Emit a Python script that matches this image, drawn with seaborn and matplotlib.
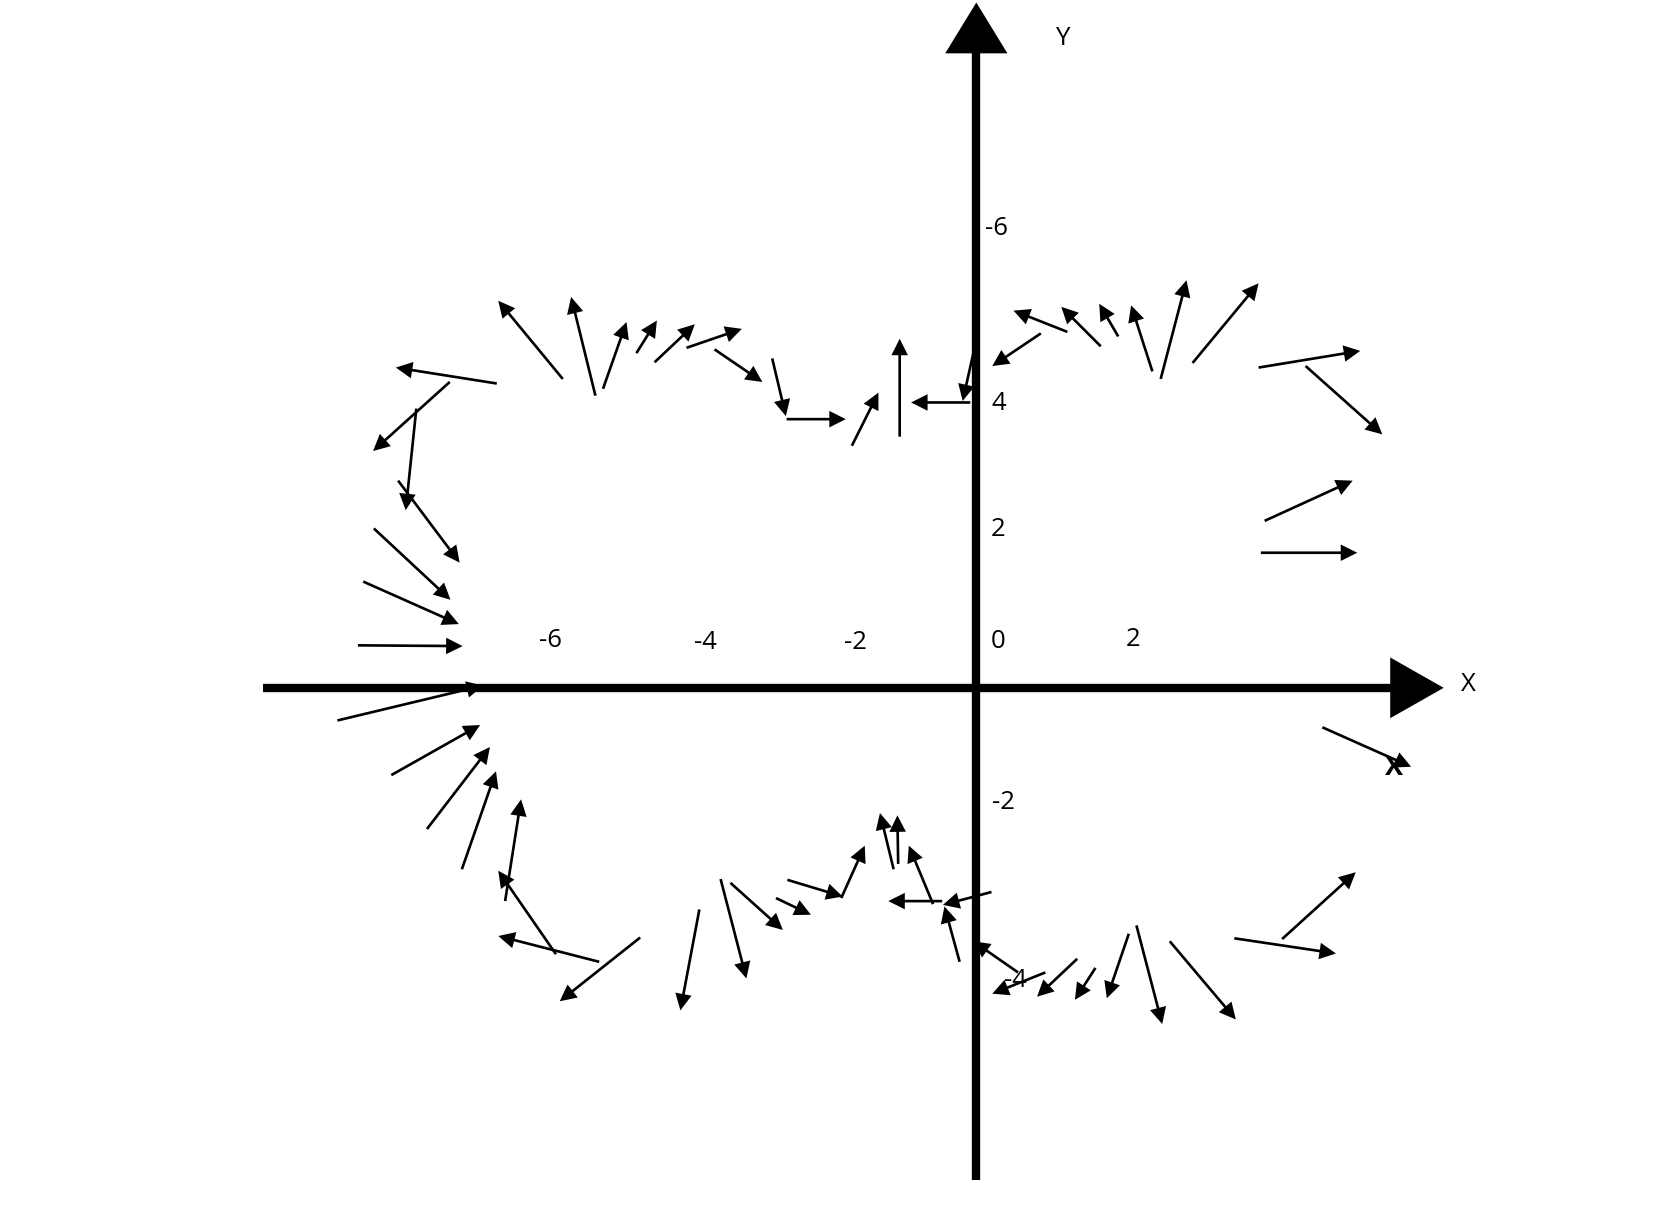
import numpy as np
import matplotlib
matplotlib.use("Agg")
import matplotlib.pyplot as plt
import seaborn as sns

sns.set_theme(style="white")
plt.rcParams['font.family'] = ['Open Sans', 'DejaVu Sans']

# Arrow tails (x, y) and components (u, v) in data units
x = [-5.45, -5.02, -4.92, -4.48, -4.24, -3.82, -3.45, -2.69, -2.50, -1.64,
     -1.01, -0.08, -0.03, -6.32, -6.94, -7.38, -7.62, -7.94, -8.08, -8.15,
     -8.42, -7.71, -7.24, -6.78, -6.21, -5.54, -4.97, -4.43, -3.65, -3.37,
     -3.24, -2.64, -2.49, -1.78, -1.09, -1.03, -0.57, -0.45, 0.20, -0.22,
     0.55, 0.91, 1.33, 1.57, 2.01, 2.11, 2.55, 3.40, 4.03, 4.56,
     0.85, 1.20, 1.64, 1.87, 2.32, 2.43, 2.85, 3.72, 4.34, 3.80, 3.75]
y = [4.07, 3.85, 3.94, 4.41, 4.29, 4.48, 4.46, 4.34, 3.54, 3.19,
     3.31, 3.76, 4.45, 4.01, 4.03, 3.68, 2.73, 2.10, 1.40, 0.56,
     -0.43, -1.15, -1.86, -2.39, -2.81, -3.51, -3.61, -3.29, -2.92, -2.52,
     -2.57, -2.77, -2.53, -2.77, -2.39, -2.32, -2.85, -2.81, -2.69, -3.61,
     -3.75, -3.75, -3.57, -3.69, -3.24, -3.13, -3.34, -3.30, -3.31, -0.52,
     4.67, 4.69, 4.50, 4.63, 4.17, 4.07, 4.28, 4.22, 4.24, 2.20, 1.78]
u = [-0.85, -0.32, 0.31, 0.27, 0.53, 0.73, 0.63, 0.18, 0.78, 0.35,
     0.00, -0.78, -0.15, -1.33, -1.01, -0.14, 0.81, 1.01, 1.26, 1.38,
     1.92, 1.17, 0.83, 0.45, 0.21, -0.76, -1.33, -1.06, -0.25, 0.34,
     0.69, 0.46, 0.73, 0.31, -0.18, -0.01, -0.32, -0.71, -0.64, -0.20,
     -0.59, -0.70, -0.53, -0.27, -0.29, 0.34, 0.87, 1.34, 0.97, 1.17,
     -0.64, -0.71, -0.52, -0.25, -0.28, 0.34, 0.87, 1.34, 1.01, 1.16, 1.27]
v = [1.03, 1.30, 0.88, 0.43, 0.50, 0.25, -0.43, -0.76, 0.00, 0.70,
     1.29, 0.00, -0.67, 0.21, -0.91, -1.34, -1.08, -0.94, -0.56, -0.01,
     0.46, 0.66, 1.08, 1.29, 1.34, 1.10, 0.34, -0.84, -1.33, -1.31,
     -0.62, -0.22, -0.22, 0.69, 0.74, 0.64, 0.77, 0.00, -0.17, 0.73,
     0.41, -0.28, -0.50, -0.42, -0.85, -1.30, -1.03, -0.20, 0.88, -0.52,
     -0.43, 0.28, 0.52, 0.43, 0.87, 1.30, 1.05, 0.22, -0.90, 0.53, 0.00]

# Tick labels as they appear on the chart
xtick_labels = ["-6", "-4", "-2", "0", "2"]
xtick_pos_x = [-5.61, -3.57, -1.59, 0.29, 2.07]
xtick_pos_y = [0.63, 0.60, 0.60, 0.61, 0.64]
ytick_labels = ["-6", "4", "2", "-2", "-4"]
ytick_pos_x = [0.27, 0.29, 0.29, 0.36, 0.52]
ytick_pos_y = [6.05, 3.75, 2.08, -1.51, -3.85]

fig = plt.figure(figsize=(16.64, 12.26), dpi=100)
ax = fig.add_axes([0, 0, 1, 1])
ax.set_xlim(-12.867, 9.063)
ax.set_ylim(-7.091, 9.063)
ax.axis('off')

# Hand-drawn axes with arrowheads
ax.plot([-9.40, 5.50], [0, 0], color='black', lw=6, solid_capstyle='butt', zorder=2)
ax.fill([5.455, 6.16, 5.455], [0.40, 0.0, -0.40], color='black', lw=0, zorder=2)
ax.plot([0, 0], [-6.49, 8.40], color='black', lw=6, solid_capstyle='butt', zorder=2)
ax.fill([-0.41, 0.0, 0.41], [8.36, 9.03, 8.36], color='black', lw=0, zorder=2)

ax.quiver(x, y, u, v, angles='xy', scale_units='xy', scale=1,
          width=0.0016, headwidth=6.2, headlength=6.2, headaxislength=6.2,
          color='black', zorder=3)

fs = 18.5
for lab, px, py in zip(xtick_labels, xtick_pos_x, xtick_pos_y):
    ax.text(px, py, lab, ha='center', va='center', fontsize=fs, color='black')
for lab, px, py in zip(ytick_labels, ytick_pos_x, ytick_pos_y):
    ax.text(px, py, lab, ha='center', va='center', fontsize=fs, color='black')

ax.text(6.49, 0.05, "X", ha='center', va='center', fontsize=fs, color='black')
ax.text(1.13, 8.56, "Y", ha='center', va='center', fontsize=fs, color='black')
ax.text(5.51, -1.05, "X", ha='center', va='center', fontsize=fs + 1,
        fontweight='bold', color='black')

fig.savefig("out.png", dpi=100)
